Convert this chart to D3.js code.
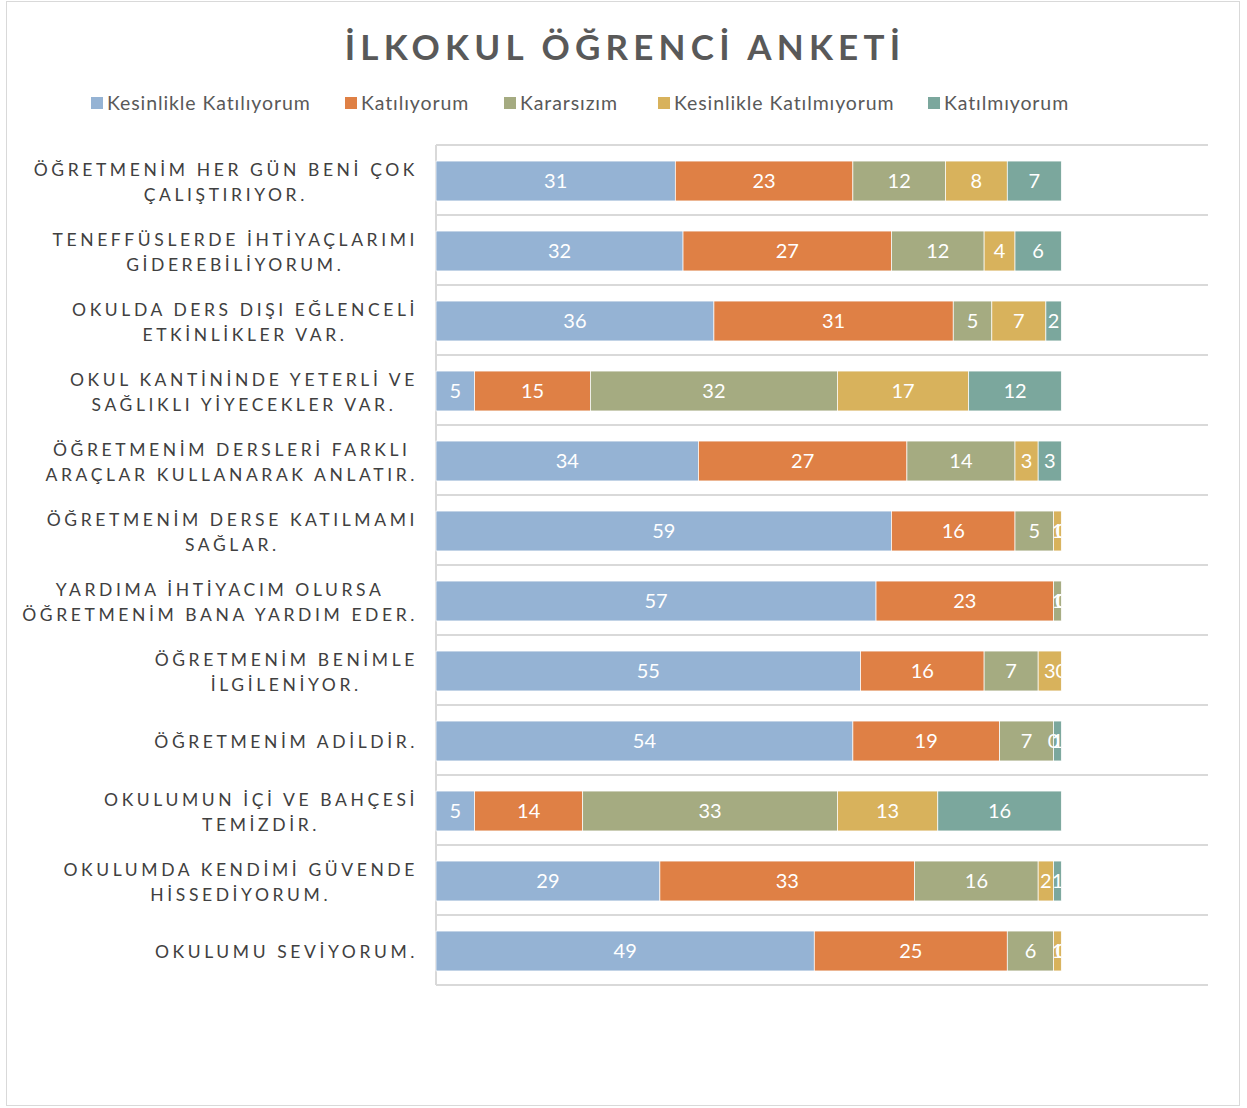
<!DOCTYPE html>
<html>
<head>
<meta charset="utf-8">
<script src="https://cdn.jsdelivr.net/npm/d3@7"></script>
<style>
  body { margin: 0; background: #fff; }
  text { font-family: "Century Gothic", "Lato", "Open Sans", sans-serif; }
</style>
</head>
<body>
<div id="chart"></div>
<script>
const categories = [
  "ÖĞRETMENİM HER GÜN BENİ ÇOK\nÇALIŞTIRIYOR.",
  "TENEFFÜSLERDE İHTİYAÇLARIMI\nGİDEREBİLİYORUM.",
  "OKULDA DERS DIŞI EĞLENCELİ\nETKİNLİKLER VAR.",
  "OKUL KANTİNİNDE YETERLİ VE\nSAĞLIKLI YİYECEKLER VAR.",
  "ÖĞRETMENİM DERSLERİ FARKLI\nARAÇLAR KULLANARAK ANLATIR.",
  "ÖĞRETMENİM DERSE KATILMAMI\nSAĞLAR.",
  "YARDIMA İHTİYACIM OLURSA\nÖĞRETMENİM BANA YARDIM EDER.",
  "ÖĞRETMENİM BENİMLE\nİLGİLENİYOR.",
  "ÖĞRETMENİM ADİLDİR.",
  "OKULUMUN İÇİ VE BAHÇESİ\nTEMİZDİR.",
  "OKULUMDA KENDİMİ GÜVENDE\nHİSSEDİYORUM.",
  "OKULUMU SEVİYORUM."
]
const seriesNames = ["Kesinlikle Katılıyorum", "Katılıyorum", "Kararsızım", "Kesinlikle Katılmıyorum", "Katılmıyorum"]
const kesinlikleKatiliyorum = [31, 32, 36, 5, 34, 59, 57, 55, 54, 5, 29, 49]
const katiliyorum           = [23, 27, 31, 15, 27, 16, 23, 16, 19, 14, 33, 25]
const kararsizim            = [12, 12, 5, 32, 14, 5, 1, 7, 7, 33, 16, 6]
const kesinlikleKatilmiyorum = [8, 4, 7, 17, 3, 1, 0, 3, 0, 13, 2, 1]
const katilmiyorum          = [7, 6, 2, 12, 3, 0, 0, 0, 1, 16, 1, 0]
const colors = ["#95B3D4", "#DF8045", "#A5AB81", "#D8B25C", "#7BA79D"]

const values = [kesinlikleKatiliyorum, katiliyorum, kararsizim, kesinlikleKatilmiyorum, katilmiyorum]
const table = categories.map((c, i) => {
  const row = {cat: c}
  seriesNames.forEach((s, j) => row[s] = values[j][i])
  return row
})

const W = 1247, H = 1108
const margin = {top: 145, left: 436, right: 39, bottom: 123}
const width = W - margin.left - margin.right,
      height = H - margin.top - margin.bottom

const svg = d3.select("#chart")
  .append("svg")
    .attr("width", W)
    .attr("height", H)

svg.append("rect")
  .attr("x", 6.5).attr("y", 1.5)
  .attr("width", 1233).attr("height", 1104)
  .attr("fill", "#fff")
  .attr("stroke", "#d9d9d9")

//title
svg.append("text")
  .attr("x", 625)
  .attr("y", 60)
  .attr("text-anchor", "middle")
  .style("font-size", "35px")
  .style("font-weight", "bold")
  .style("letter-spacing", "5.2px")
  .attr("fill", "#595959")
  .text("İLKOKUL ÖĞRENCİ ANKETİ")

//legend
const legendX = [91, 345, 504, 658, 928]
const legend = svg.append("g")
  .selectAll("g")
  .data(seriesNames)
  .enter()
  .append("g")
    .attr("transform", (d, i) => "translate(" + legendX[i] + ",97)")
legend.append("rect")
  .attr("width", 12).attr("height", 12)
  .attr("fill", (d, i) => colors[i])
legend.append("text")
  .attr("x", 16)
  .attr("y", 13)
  .style("font-size", "19.5px")
  .style("letter-spacing", "0.9px")
  .attr("fill", "#595959")
  .text(d => d)

const g = svg.append("g")
  .attr("transform", "translate(" + margin.left + "," + margin.top + ")")

const x = d3.scaleLinear().domain([0, 100]).range([0, width])
const y = d3.scaleBand().domain(categories).range([0, height]).paddingInner(0.43).paddingOuter(0.215)

//gridlines at category boundaries
g.selectAll(null)
  .data(d3.range(categories.length + 1))
  .enter()
  .append("line")
    .attr("x1", 0).attr("x2", width)
    .attr("y1", d => d * (height / categories.length))
    .attr("y2", d => d * (height / categories.length))
    .attr("stroke", "#d9d9d9")
    .attr("stroke-width", 2)
g.append("line")
  .attr("x1", 0).attr("x2", 0)
  .attr("y1", 0).attr("y2", height)
  .attr("stroke", "#d9d9d9")
  .attr("stroke-width", 2)

const stacked = d3.stack().keys(seriesNames)(table)

g.append("clipPath")
  .attr("id", "clip-bars")
  .append("rect")
    .attr("x", 0).attr("y", 0)
    .attr("width", x(81)).attr("height", height)

const bars = g.append("g").attr("transform", "translate(0,1)")

const layer = bars.selectAll(".layer")
  .data(stacked)
  .enter()
  .append("g")
    .attr("class", "layer")
    .attr("fill", (d, i) => colors[i])

layer.selectAll("rect")
  .data(d => d)
  .enter()
  .append("rect")
    .attr("x", d => x(d[0]))
    .attr("y", d => y(d.data.cat))
    .attr("width", d => x(d[1]) - x(d[0]))
    .attr("height", y.bandwidth())
    .attr("stroke", "#fff")
    .attr("stroke-width", 0.7)

const labels = bars.append("g").attr("clip-path", "url(#clip-bars)")
stacked.forEach(s => {
  labels.selectAll(null)
    .data(s)
    .enter()
    .append("text")
      .attr("x", d => (x(d[0]) + x(d[1])) / 2)
      .attr("y", d => y(d.data.cat) + y.bandwidth() / 2 + 7)
      .attr("text-anchor", "middle")
      .style("font-size", "20px")
      .attr("fill", "#fff")
      .text(d => d[1] - d[0])
})

//category labels
categories.forEach(c => {
  const lines = c.split("\n")
  const cy = y(c) + y.bandwidth() / 2
  const t = svg.append("g")
  const texts = lines.map((l, k) => t.append("text")
    .attr("y", margin.top + cy + 8 + (k - (lines.length - 1) / 2) * 25)
    .style("font-size", "17.5px")
    .style("letter-spacing", "3.6px")
    .attr("fill", "#404040")
    .attr("text-anchor", "middle")
    .text(l))
  const widths = texts.map(tx => tx.node().getComputedTextLength())
  const maxW = d3.max(widths)
  texts.forEach(tx => tx.attr("x", 418 - maxW / 2))
})
</script>
</body>
</html>
